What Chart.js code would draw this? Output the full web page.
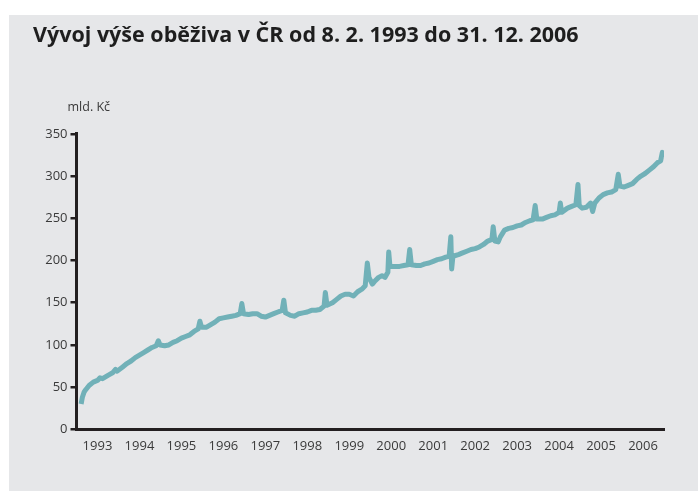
<!DOCTYPE html>
<html>
<head>
<meta charset="utf-8">
<script src="https://cdn.jsdelivr.net/npm/chart.js@4/dist/chart.umd.min.js"></script>
<style>
html,body{margin:0;padding:0;background:#ffffff;}
#wrap{position:absolute;left:0;top:0;width:698px;height:491px;}
</style>
</head>
<body>
<div id="wrap"><canvas id="c" width="698" height="491"></canvas></div>
<script>
// ---- data ----
const chartTitle = 'Vývoj výše oběživa v ČR od 8. 2. 1993 do 31. 12. 2006';
const unitLabel = 'mld. Kč';
const yearLabels = ['1993','1994','1995','1996','1997','1998','1999','2000','2001','2002','2003','2004','2005','2006'];
const yTicks = [0, 50, 100, 150, 200, 250, 300, 350];

// time positions (decimal years)
const dates = [
  1993.11,1993.14,1993.18,1993.22,1993.30,1993.40,1993.50,1993.56,1993.62,1993.75,1993.86,1993.93,1993.97,
  1994.10,1994.20,1994.30,1994.40,1994.50,1994.60,1994.70,1994.80,1994.90,1994.95,1994.99,
  1995.10,1995.20,1995.30,1995.40,1995.50,1995.60,1995.70,1995.80,1995.90,1995.94,1995.98,
  1996.10,1996.20,1996.30,1996.40,1996.50,1996.60,1996.70,1996.80,1996.90,1996.94,1996.98,
  1997.10,1997.20,1997.30,1997.40,1997.50,1997.60,1997.70,1997.80,1997.90,1997.94,1997.98,
  1998.10,1998.20,1998.30,1998.40,1998.50,1998.60,1998.70,1998.80,1998.90,1998.93,1998.97,
  1999.10,1999.20,1999.30,1999.40,1999.50,1999.60,1999.70,1999.80,1999.88,1999.93,1999.97,
  2000.05,2000.10,2000.20,2000.28,2000.35,2000.42,2000.44,2000.47,2000.60,2000.70,2000.80,2000.90,2000.94,2000.98,
  2001.10,2001.20,2001.30,2001.40,2001.50,2001.60,2001.70,2001.80,2001.88,2001.92,2001.94,2001.97,
  2002.10,2002.20,2002.30,2002.40,2002.50,2002.60,2002.70,2002.80,2002.90,2002.93,2002.97,
  2003.05,2003.10,2003.20,2003.30,2003.40,2003.50,2003.60,2003.70,2003.80,2003.88,2003.93,2003.97,
  2004.10,2004.20,2004.30,2004.40,2004.50,2004.53,2004.56,2004.70,2004.80,2004.90,2004.95,2004.98,
  2005.05,2005.15,2005.25,2005.30,2005.35,2005.45,2005.55,2005.65,2005.75,2005.85,2005.91,2005.95,
  2006.05,2006.15,2006.25,2006.35,2006.45,2006.55,2006.65,2006.75,2006.85,2006.92,2006.96,2006.99
];
// currency in circulation, bn CZK
const circulation = [
  30,38,44,47,52,56,58,61,60,64,67,71,69,
  74,78,81,85,88,91,94,97,99,105,100,
  99,100,103,105,108,110,112,116,119,128,121,
  121,124,127,131,132,133,134,135,137,149,137,
  136,137,137,134,133,135,137,139,141,153,138,
  135,134,137,138,139,141,141,142,146,162,147,
  150,154,158,160,160,158,163,166,170,197,180,
  172,175,180,182,180,186,210,193,193,193,194,195,213,195,
  194,194,196,197,199,201,202,204,205,228,190,205,
  207,209,211,213,214,216,219,223,225,240,223,
  222,228,236,238,239,241,242,245,247,248,265,249,
  249,251,253,254,257,268,257,262,264,266,290,265,
  262,263,268,258,268,274,278,280,281,284,302,288,
  287,289,291,296,300,303,307,311,316,318,328,322
];

const ink = '#231f20';
const textCol = '#3a3a3a';
const lineCol = '#71b1b8';

const bgPlugin = {
  id: 'bgPanel',
  beforeDraw(chart) {
    const ctx = chart.ctx;
    ctx.save();
    ctx.fillStyle = '#ffffff';
    ctx.fillRect(0, 0, chart.width, chart.height);
    ctx.fillStyle = '#e6e7e9';
    ctx.fillRect(9, 15, chart.width - 9, chart.height - 15);
    ctx.restore();
  },
  afterDraw(chart) {
    const ctx = chart.ctx;
    ctx.save();
    ctx.font = '12.5px "Open Sans"';
    ctx.fillStyle = textCol;
    ctx.textAlign = 'left';
    ctx.textBaseline = 'alphabetic';
    ctx.fillText(unitLabel, chart.chartArea.left - 9, 111);
    ctx.restore();
  }
};

new Chart(document.getElementById('c'), {
  type: 'line',
  data: {
    datasets: [{
      data: dates.map((d, i) => ({x: d, y: circulation[i]})),
      borderColor: lineCol,
      backgroundColor: lineCol,
      borderWidth: 5,
      borderJoinStyle: 'round',
      pointRadius: 0,
      tension: 0,
      fill: false
    }]
  },
  options: {
    responsive: false,
    animation: false,
    devicePixelRatio: 1,
    layout: { padding: { left: 33, right: 34, top: 23, bottom: 28 } },
    plugins: {
      legend: { display: false },
      tooltip: { enabled: false },
      title: {
        display: true,
        text: chartTitle,
        align: 'start',
        color: '#1e1e1e',
        font: { family: '"Open Sans"', size: 21.5, weight: 'bold' },
        padding: { top: 0, bottom: 85 }
      }
    },
    scales: {
      x: {
        type: 'linear',
        min: 1993,
        max: 2007,
        afterBuildTicks(scale) {
          scale.ticks = yearLabels.map(y => ({ value: Number(y) + 0.5 }));
        },
        ticks: {
          autoSkip: false,
          maxRotation: 0,
          padding: 9,
          color: textCol,
          font: { family: '"Open Sans"', size: 13 },
          callback: (v) => String(Math.floor(v))
        },
        grid: { drawOnChartArea: false, drawTicks: false },
        border: { display: true, color: ink, width: 3 }
      },
      y: {
        min: 0,
        max: 350,
        afterBuildTicks(scale) {
          scale.ticks = yTicks.map(v => ({ value: v }));
        },
        afterFit(scale) { scale.width = 43.5; },
        ticks: {
          padding: 3,
          color: textCol,
          font: { family: '"Open Sans"', size: 13 }
        },
        grid: { drawOnChartArea: false, drawTicks: true, tickLength: 6, lineWidth: 2.5, color: ink },
        border: { display: true, color: ink, width: 3 }
      }
    }
  },
  plugins: [bgPlugin]
});
</script>
</body>
</html>
